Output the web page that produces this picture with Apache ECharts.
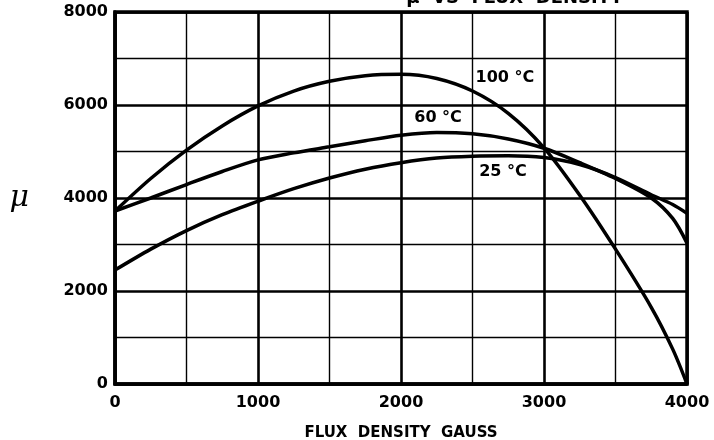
<!DOCTYPE html>
<html>
<head>
<meta charset="utf-8">
<script src="https://cdn.jsdelivr.net/npm/echarts@6/dist/echarts.min.js"></script>
<style>
  html, body { margin: 0; padding: 0; background: #fff; }
  #chart { width: 714px; height: 440px; }
</style>
</head>
<body>
<div id="chart"></div>
<script>
// flux density (gauss)
var flux = [0, 250, 500, 750, 1000, 1250, 1500, 1750, 2000, 2250, 2500, 2750, 3000, 3250, 3500, 3750, 3900, 4000];
// permeability at each temperature
var mu100 = [3720, 4420, 5030, 5550, 5980, 6300, 6510, 6630, 6660, 6570, 6300, 5820, 5080, 4060, 2900, 1650, 750, 0];
var mu60  = [3720, 4000, 4290, 4570, 4820, 4970, 5100, 5230, 5350, 5410, 5380, 5270, 5070, 4760, 4420, 4000, 3560, 3030];
var mu25  = [2450, 2900, 3300, 3640, 3930, 4200, 4430, 4620, 4760, 4860, 4900, 4910, 4870, 4720, 4440, 4070, 3860, 3670];
var xTicks = [0, 1000, 2000, 3000, 4000];
var yTicks = [0, 2000, 4000, 6000, 8000];
// curve labels: text, flux, mu
var curveNames = ['100 °C', '60 °C', '25 °C'];
var labelAt = [[2727, 6580], [2259, 5720], [2713, 4560]];

function pairs(xs, ys) {
    var out = [];
    for (var i = 0; i < xs.length; i++) {
        out.push([xs[i], ys[i]]);
    }
    return out;
}

var myChart = echarts.init(document.getElementById('chart'));
var font = '"DejaVu Sans", sans-serif';

function curve(name, values) {
    return {
        name: name, type: 'line', data: pairs(flux, values),
        smooth: 0.3, symbol: 'none',
        lineStyle: { color: '#000', width: 3.5 }
    };
}

var labelData = [];
for (var i = 0; i < curveNames.length; i++) {
    labelData.push({ value: labelAt[i], name: curveNames[i] });
}

var option = {
    animation: false,
    backgroundColor: '#fff',
    // title is cut off at the top edge in the original
    title: {
        text: 'μ  VS  FLUX  DENSITY',
        right: 86,
        top: -16,
        textStyle: { fontFamily: font, fontWeight: 'bold', fontSize: 18, color: '#000' }
    },
    grid: {
        left: 115, right: 27, top: 12, bottom: 56,
        outerBoundsMode: 'none',
        show: true,
        borderColor: '#000',
        borderWidth: 3.5
    },
    xAxis: {
        type: 'value',
        min: 0, max: 4000, interval: 1000,
        name: 'FLUX  DENSITY  GAUSS',
        nameLocation: 'middle',
        nameGap: 42,
        nameTextStyle: { fontFamily: font, fontWeight: 'bold', fontSize: 15, color: '#000' },
        axisLine: { show: true, lineStyle: { color: '#000', width: 3.5 } },
        axisTick: { show: false },
        axisLabel: {
            color: '#000', fontFamily: font, fontWeight: 'bold', fontSize: 16, margin: 11,
            formatter: function (v) { return xTicks.indexOf(v) >= 0 ? String(v) : ''; }
        },
        splitLine: { show: true, lineStyle: { color: '#000', width: 2.6 } },
        minorTick: { show: true, splitNumber: 2, length: 0 },
        minorSplitLine: { show: true, lineStyle: { color: '#000', width: 1.4 } }
    },
    yAxis: {
        type: 'value',
        min: 0, max: 8000, interval: 2000,
        name: 'μ',
        nameLocation: 'middle',
        nameRotate: 0,
        nameGap: 86,
        nameTextStyle: { fontFamily: '"DejaVu Serif", serif', fontStyle: 'italic', fontSize: 30, color: '#000', padding: [0, 0, 14, 0] },
        axisLine: { show: true, lineStyle: { color: '#000', width: 3.5 } },
        axisTick: { show: false },
        axisLabel: {
            color: '#000', fontFamily: font, fontWeight: 'bold', fontSize: 16, margin: 7,
            formatter: function (v) { return yTicks.indexOf(v) >= 0 ? String(v) : ''; }
        },
        splitLine: { show: true, lineStyle: { color: '#000', width: 2.6 } },
        minorTick: { show: true, splitNumber: 2, length: 0 },
        minorSplitLine: { show: true, lineStyle: { color: '#000', width: 1.4 } }
    },
    series: [
        curve('100 °C', mu100),
        curve('60 °C', mu60),
        curve('25 °C', mu25),
        {
            type: 'scatter',
            data: labelData,
            symbolSize: 1,
            silent: true,
            z: 5,
            itemStyle: { color: 'rgba(0,0,0,0)', opacity: 1 },
            label: {
                show: true,
                position: 'inside',
                formatter: '{b}',
                color: '#000',
                opacity: 1,
                backgroundColor: '#fff',
                padding: [0, 1],
                fontFamily: font,
                fontWeight: 'bold',
                fontSize: 16
            }
        }
    ]
};

myChart.setOption(option);
</script>
</body>
</html>
